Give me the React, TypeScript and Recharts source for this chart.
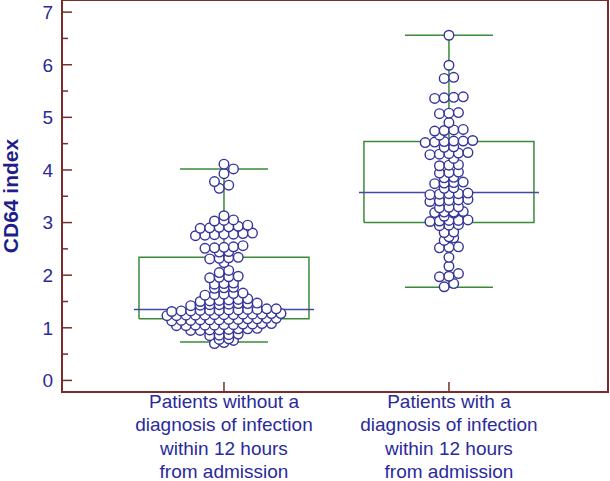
import {
  ComposedChart,
  Line,
  ReferenceArea,
  Scatter,
  XAxis,
  YAxis,
} from "recharts";

// CD64 index per patient
const NO_INFECTION = [
  4.11, 4.02, 3.93, 3.78, 3.71, 3.65,
  3.13, 3.05, 3.04, 3.03,
  2.95, 2.93, 2.92, 2.91, 2.9, 2.89,
  2.8, 2.79, 2.78, 2.78, 2.77, 2.76, 2.75,
  2.56, 2.54, 2.53, 2.52, 2.51,
  2.45, 2.44,
  2.34, 2.33, 2.32, 2.31,
  2.24,
  2.09, 2.05,
  1.98, 1.97, 1.96, 1.95,
  1.85, 1.84, 1.83,
  1.77, 1.76, 1.75,
  1.66, 1.65, 1.64, 1.63, 1.62,
  1.55, 1.54, 1.53, 1.52, 1.51, 1.5,
  1.47, 1.46, 1.46, 1.45, 1.44, 1.44, 1.43, 1.42,
  1.36, 1.36, 1.35, 1.35, 1.34, 1.34, 1.33, 1.33, 1.33, 1.32, 1.32, 1.31,
  1.27, 1.27, 1.26, 1.26, 1.26, 1.25, 1.25, 1.25, 1.24, 1.24, 1.24, 1.23, 1.23,
  1.18, 1.18, 1.17, 1.17, 1.16, 1.16, 1.15, 1.15, 1.15, 1.14, 1.14, 1.13,
  1.08, 1.08, 1.07, 1.07, 1.06, 1.06, 1.05, 1.05, 1.05, 1.04, 1.04,
  0.99, 0.98, 0.98, 0.97, 0.96, 0.96, 0.95, 0.95,
  0.88, 0.87, 0.86, 0.85,
  0.79, 0.78, 0.76,
  0.72, 0.7,
];

const WITH_INFECTION = [
  6.56,
  5.99,
  5.76, 5.74,
  5.39, 5.38, 5.37, 5.36,
  5.09, 5.08, 5.07,
  4.9,
  4.77, 4.76, 4.75, 4.74,
  4.66,
  4.56, 4.55, 4.55, 4.54, 4.53, 4.52,
  4.44, 4.43,
  4.33, 4.32, 4.31, 4.3, 4.29,
  4.22,
  4.1, 4.09, 4.08,
  3.96, 3.95, 3.94,
  3.86, 3.85,
  3.77, 3.76, 3.75, 3.74,
  3.66, 3.65,
  3.56, 3.55, 3.55, 3.54, 3.53,
  3.44, 3.43, 3.42, 3.41, 3.4,
  3.3, 3.29, 3.28,
  3.21, 3.2, 3.2, 3.19, 3.18,
  3.12,
  3.05, 3.04, 3.04, 3.03, 3.02,
  2.96, 2.95, 2.94,
  2.82, 2.81,
  2.73, 2.71,
  2.66,
  2.54, 2.53, 2.52,
  2.34,
  2.17,
  2.03,
  1.98, 1.97,
  1.84,
  1.78,
];

// box plot summary (whisker low, Q1, median, Q3, whisker high)
const WHISKER_LOW = [0.73, 1.77];
const Q1 = [1.17, 3.0];
const MEDIAN = [1.35, 3.57];
const Q3 = [2.34, 4.54];
const WHISKER_HIGH = [4.02, 6.56];

const CATEGORY_LABELS = [
  ["Patients without a", "diagnosis of infection", "within 12 hours", "from admission"],
  ["Patients with a", "diagnosis of infection", "within 12 hours", "from admission"],
];

const Y_TICKS = [0, 0.5, 1, 1.5, 2, 2.5, 3, 3.5, 4, 4.5, 5, 5.5, 6, 6.5, 7];

const WIDTH = 610;
const HEIGHT = 481;
const Y_AXIS_W = 62;
const X_AXIS_H = 89;
const X_MIN = 0.28;
const X_MAX = 2.707;
const Y_MIN = -0.22;
const Y_MAX = 7.23;
const PX_PER_X = (WIDTH - Y_AXIS_W - 2) / (X_MAX - X_MIN);
const PX_PER_Y = (HEIGHT - X_AXIS_H) / (Y_MAX - Y_MIN);

const FONT = '"Liberation Sans", Arial, sans-serif';
const TEXT_BLUE = "#2a2a9c";
const FRAME = "#7a2c2c";
const GREEN = "#3a8a3a";
const DOT = "#35359a";

const BOX_HALF = 85 / PX_PER_X;
const CAP_HALF = 44 / PX_PER_X;
const MED_HALF = 90 / PX_PER_X;
const STEP_PX = 9.5;
const BIN = 0.065;

// MedCalc-style dot rows: close values share a row, spread around the centre.
// Lone dots that would sit on top of the one below get nudged sideways.
function swarm(values: number[], group: number) {
  const sorted = [...values].sort((a, b) => a - b);
  const placed: { px: number; py: number }[] = [];
  const out: { x: number; y: number }[] = [];
  let i = 0;
  while (i < sorted.length) {
    let j = i;
    while (j < sorted.length && sorted[j] - sorted[i] < BIN) j++;
    const n = j - i;
    let shift = 0;
    if (n === 1) {
      const py = sorted[i] * PX_PER_Y;
      const hits = (s: number) =>
        placed.some((p) => Math.hypot(p.px - s, p.py - py) < 7.5);
      for (const s of [0, 0.5, -0.5, 1, -1]) {
        if (!hits(s * STEP_PX)) {
          shift = s * STEP_PX;
          break;
        }
      }
    }
    for (let k = 0; k < n; k++) {
      const px = (k - (n - 1) / 2) * STEP_PX + shift;
      placed.push({ px, py: sorted[i + k] * PX_PER_Y });
      out.push({ x: group + px / PX_PER_X, y: sorted[i + k] });
    }
    i = j;
  }
  return out;
}

function boxPath(idx: number) {
  const g = idx + 1;
  const gap = { x: g, y: null };
  return [
    { x: g - BOX_HALF, y: Q1[idx] },
    { x: g + BOX_HALF, y: Q1[idx] },
    { x: g + BOX_HALF, y: Q3[idx] },
    { x: g - BOX_HALF, y: Q3[idx] },
    { x: g - BOX_HALF, y: Q1[idx] },
    gap,
    { x: g, y: Q3[idx] },
    { x: g, y: WHISKER_HIGH[idx] },
    gap,
    { x: g - CAP_HALF, y: WHISKER_HIGH[idx] },
    { x: g + CAP_HALF, y: WHISKER_HIGH[idx] },
    gap,
    { x: g, y: Q1[idx] },
    { x: g, y: WHISKER_LOW[idx] },
    gap,
    { x: g - CAP_HALF, y: WHISKER_LOW[idx] },
    { x: g + CAP_HALF, y: WHISKER_LOW[idx] },
  ];
}

function medianPath(idx: number) {
  const g = idx + 1;
  return [
    { x: g - MED_HALF, y: MEDIAN[idx] },
    { x: g + MED_HALF, y: MEDIAN[idx] },
  ];
}

const Y_TICK_MARGIN = 9;

function YTick(props: any) {
  const { x, y, payload } = props;
  const v = payload.value as number;
  const major = Number.isInteger(v);
  const left = x + Y_TICK_MARGIN;
  return (
    <g>
      <line x1={left} x2={left + (major ? 10 : 6)} y1={y} y2={y} stroke={FRAME} strokeWidth={1.5} />
      {major && (
        <text x={x} y={y} dy="0.36em" textAnchor="end" fill={TEXT_BLUE} fontSize={19} fontFamily={FONT}>
          {v}
        </text>
      )}
    </g>
  );
}

function XTick(props: any) {
  const { x, y, payload } = props;
  const lines = CATEGORY_LABELS[payload.value - 1] || [];
  return (
    <g>
      <line x1={x} x2={x} y1={y} y2={y - 10} stroke={FRAME} strokeWidth={1.5} />
      {lines.map((t, i) => (
        <text
          key={i}
          x={x}
          y={y + 16 + i * 23.4}
          textAnchor="middle"
          fill={TEXT_BLUE}
          fontSize={19}
          fontFamily={FONT}
        >
          {t}
        </text>
      ))}
    </g>
  );
}

const dotShape = (p: any) => (
  <circle cx={p.cx} cy={p.cy} r={4.8} fill="#fff" stroke={DOT} strokeWidth={1.4} />
);

export default function App() {
  return (
    <div style={{ width: WIDTH, height: HEIGHT, position: "relative" }}>
      <style>{"body{margin:0}"}</style>
      <ComposedChart width={WIDTH} height={HEIGHT} margin={{ top: 0, right: 2, bottom: 0, left: 0 }}>
        <XAxis
          type="number"
          dataKey="x"
          domain={[X_MIN, X_MAX]}
          ticks={[1, 2]}
          allowDataOverflow
          height={X_AXIS_H}
          axisLine={false}
          tickLine={false}
          tickSize={0}
          tickMargin={0}
          tick={<XTick />}
          interval={0}
        />
        <YAxis
          type="number"
          dataKey="y"
          domain={[Y_MIN, Y_MAX]}
          ticks={Y_TICKS}
          allowDataOverflow
          width={Y_AXIS_W}
          axisLine={false}
          tickLine={false}
          tickSize={0}
          tickMargin={Y_TICK_MARGIN}
          tick={<YTick />}
          interval={0}
        />
        <ReferenceArea
          x1={X_MIN}
          x2={X_MAX}
          y1={Y_MIN}
          y2={Y_MAX}
          fill="none"
          fillOpacity={0}
          stroke={FRAME}
          strokeWidth={2}
          ifOverflow="visible"
        />
        {[0, 1].map((i) => (
          <Line
            key={`box${i}`}
            data={boxPath(i)}
            dataKey="y"
            type="linear"
            stroke={GREEN}
            strokeWidth={1.5}
            dot={false}
            activeDot={false}
            connectNulls={false}
            isAnimationActive={false}
          />
        ))}
        {[0, 1].map((i) => (
          <Line
            key={`med${i}`}
            data={medianPath(i)}
            dataKey="y"
            type="linear"
            stroke="#4646a6"
            strokeWidth={1.5}
            dot={false}
            activeDot={false}
            isAnimationActive={false}
          />
        ))}
        <Scatter data={swarm(NO_INFECTION, 1)} shape={dotShape} isAnimationActive={false} />
        <Scatter data={swarm(WITH_INFECTION, 2)} shape={dotShape} isAnimationActive={false} />
      </ComposedChart>
      <div
        style={{
          position: "absolute",
          left: 11,
          top: 196,
          transform: "translate(-50%, -50%) rotate(-90deg)",
          whiteSpace: "nowrap",
          fontFamily: FONT,
          fontWeight: "bold",
          fontSize: 21,
          color: "#1e1e8c",
        }}
      >
        CD64 index
      </div>
    </div>
  );
}
